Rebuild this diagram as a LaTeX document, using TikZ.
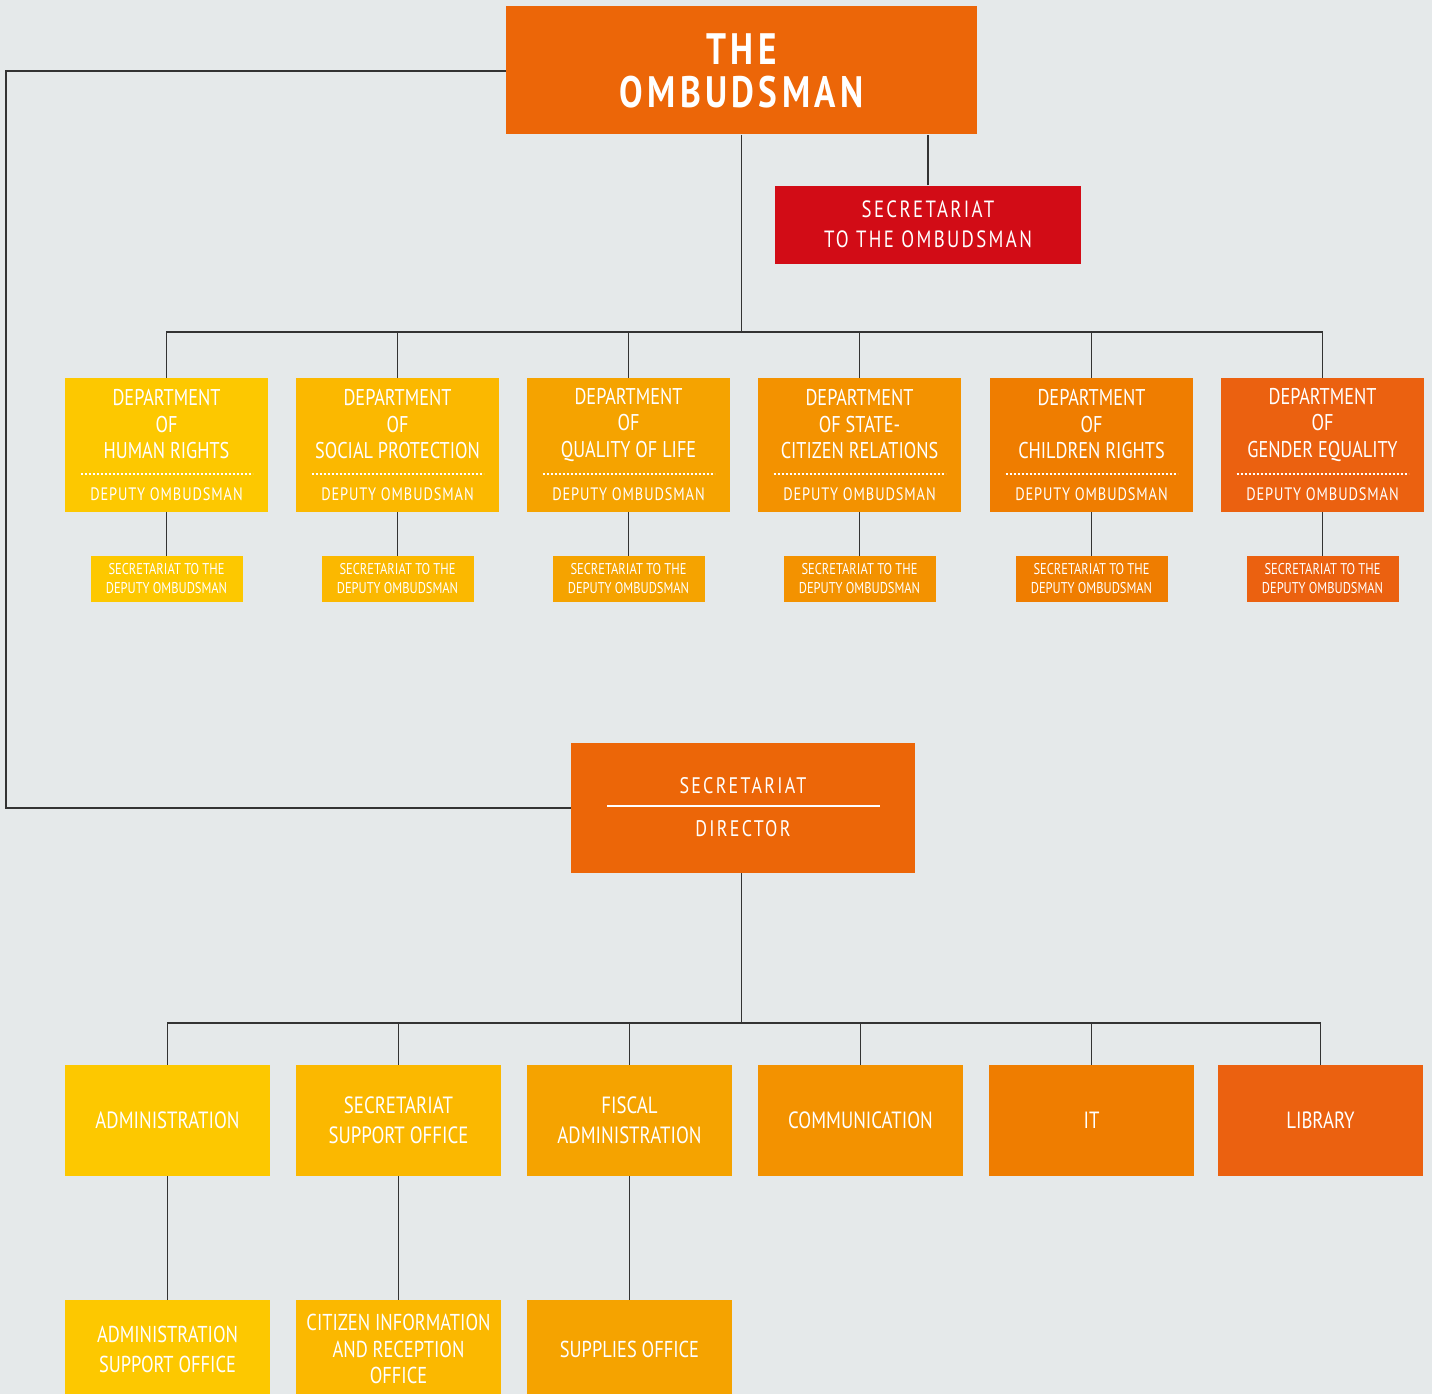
\documentclass[tikz,border=0pt]{standalone}
\usepackage{fontspec}
\newfontfamily\din[FakeStretch=0.8]{PT Sans}
\newfontfamily\dinsp[FakeStretch=0.8,LetterSpace=10]{PT Sans}
\newfontfamily\dinls[FakeStretch=0.8,LetterSpace=5]{PT Sans}
\definecolor{bg}{HTML}{E5E9EA}
\definecolor{cTop}{HTML}{EC6608}
\definecolor{cRed}{HTML}{D20C16}
\definecolor{cA}{HTML}{FDC800}
\definecolor{cB}{HTML}{FBB800}
\definecolor{cC}{HTML}{F5A300}
\definecolor{cD}{HTML}{F39200}
\definecolor{cE}{HTML}{EF7D00}
\definecolor{cF}{HTML}{EB6110}
\definecolor{lnk}{HTML}{333333}
\tikzset{
  box/.style={fill=#1, draw=none, inner sep=0pt, text=white, align=center},
  conn/.style={draw=lnk, line width=1.4pt},
  dots/.style={draw=white, line width=1.3pt, dash pattern=on 2pt off 2pt},
  txt/.style={text=white, align=center, inner sep=0pt}
}
\begin{document}
\begin{tikzpicture}[x=1pt,y=-1pt]
\fill[bg] (0,0) rectangle (1432,1394);
\useasboundingbox (0,0) rectangle (1432,1394);

% top
\node[box=cTop, minimum width=471pt, minimum height=128pt,
  font={\dinsp\bfseries\fontsize{44}{43}\selectfont}] (top) at (741.5,70.5) {THE\\OMBUDSMAN};
\node[box=cRed, minimum width=306pt, minimum height=78pt,
  font={\dinsp\fontsize{23.5}{30}\selectfont}] (red) at (928,224.5) {SECRETARIAT\\TO THE OMBUDSMAN};

% departments
\foreach \i/\x/\c/\a/\b/\d in {
  1/166.5/cA/DEPARTMENT/OF/HUMAN RIGHTS,
  2/397.5/cB/DEPARTMENT/OF/SOCIAL PROTECTION,
  3/628.5/cC/DEPARTMENT/OF/QUALITY OF LIFE,
  4/859.5/cD/DEPARTMENT/OF STATE-/CITIZEN RELATIONS,
  5/1091.5/cE/DEPARTMENT/OF/CHILDREN RIGHTS,
  6/1322.5/cF/DEPARTMENT/OF/GENDER EQUALITY}{
  \node[box=\c, minimum width=203pt, minimum height=134pt] (d\i) at (\x,445) {};
  \node[txt, font={\din\fontsize{22.8}{26.5}\selectfont}] (dt\i) at (\x,424.5) {\a\\\b\\\d};
  \coordinate (dl\i) at (\x-86,474);
  \coordinate (dr\i) at (\x+86,474);
  \draw[dots] (dl\i) -- (dr\i);
  \node[txt, font={\dinls\fontsize{18}{20}\selectfont}] (dd\i) at (\x,494.5) {DEPUTY OMBUDSMAN};
  \node[box=\c, minimum width=152pt, minimum height=46pt,
    font={\din\fontsize{15.6}{19}\selectfont}] (s\i) at (\x,579) {SECRETARIAT TO THE\\DEPUTY OMBUDSMAN};
  \draw[conn] (d\i.south) -- (s\i.north);
}

\coordinate (busA) at (741.5,332);
\draw[conn] (top.south) -- (busA);
\draw[conn] (d1.north) |- (busA) -| (d6.north);
\foreach \i in {2,3,4,5}{\draw[conn] (d\i.north) -- (d\i.north |- busA);}
\draw[conn] (red.north) -- (red.north |- top.south);

% director
\node[box=cTop, minimum width=344pt, minimum height=130pt] (dir) at (743,808) {};
\node[txt, font={\dinsp\fontsize{22.5}{24}\selectfont}] (dirA) at (743,786) {SECRETARIAT};
\node[txt, font={\dinsp\fontsize{22.5}{24}\selectfont}] (dirB) at (743,829) {DIRECTOR};
\coordinate (sepL) at (607,806);
\coordinate (sepR) at (880,806);
\draw[white, line width=1.4pt] (sepL) -- (sepR);

\coordinate (lc) at (6,71);
\draw[conn] (top.west |- lc) -- (lc) |- (dir.west);

% bottom units
\foreach \i/\x/\c/\t in {
  1/167.5/cA/ADMINISTRATION,
  2/398.5/cB/SECRETARIAT\\SUPPORT OFFICE,
  3/629.5/cC/FISCAL\\ADMINISTRATION,
  4/860.5/cD/COMMUNICATION,
  5/1091.5/cE/IT,
  6/1320.5/cF/LIBRARY}{
  \node[box=\c, minimum width=205pt, minimum height=111pt,
    font={\din\fontsize{23.5}{29.5}\selectfont}] (b\i) at (\x,1120.5) {\t};
}
\coordinate (busB) at (741.5,1023);
\draw[conn] (dir.south -| busB) -- (busB);
\draw[conn] (b1.north) |- (busB) -| (b6.north);
\foreach \i in {2,3,4,5}{\draw[conn] (b\i.north) -- (b\i.north |- busB);}

\foreach \i/\x/\c/\t/\s in {
  1/167.5/cA/ADMINISTRATION\\SUPPORT OFFICE/30,
  2/398.5/cB/CITIZEN INFORMATION\\AND RECEPTION\\OFFICE/26.5,
  3/629.5/cC/SUPPLIES OFFICE/30}{
  \node[box=\c, minimum width=205pt, minimum height=98pt,
    font={\din\fontsize{23}{\s}\selectfont}] (c\i) at (\x,1349) {\t};
  \draw[conn] (b\i.south) -- (c\i.north);
}
\end{tikzpicture}
\end{document}
